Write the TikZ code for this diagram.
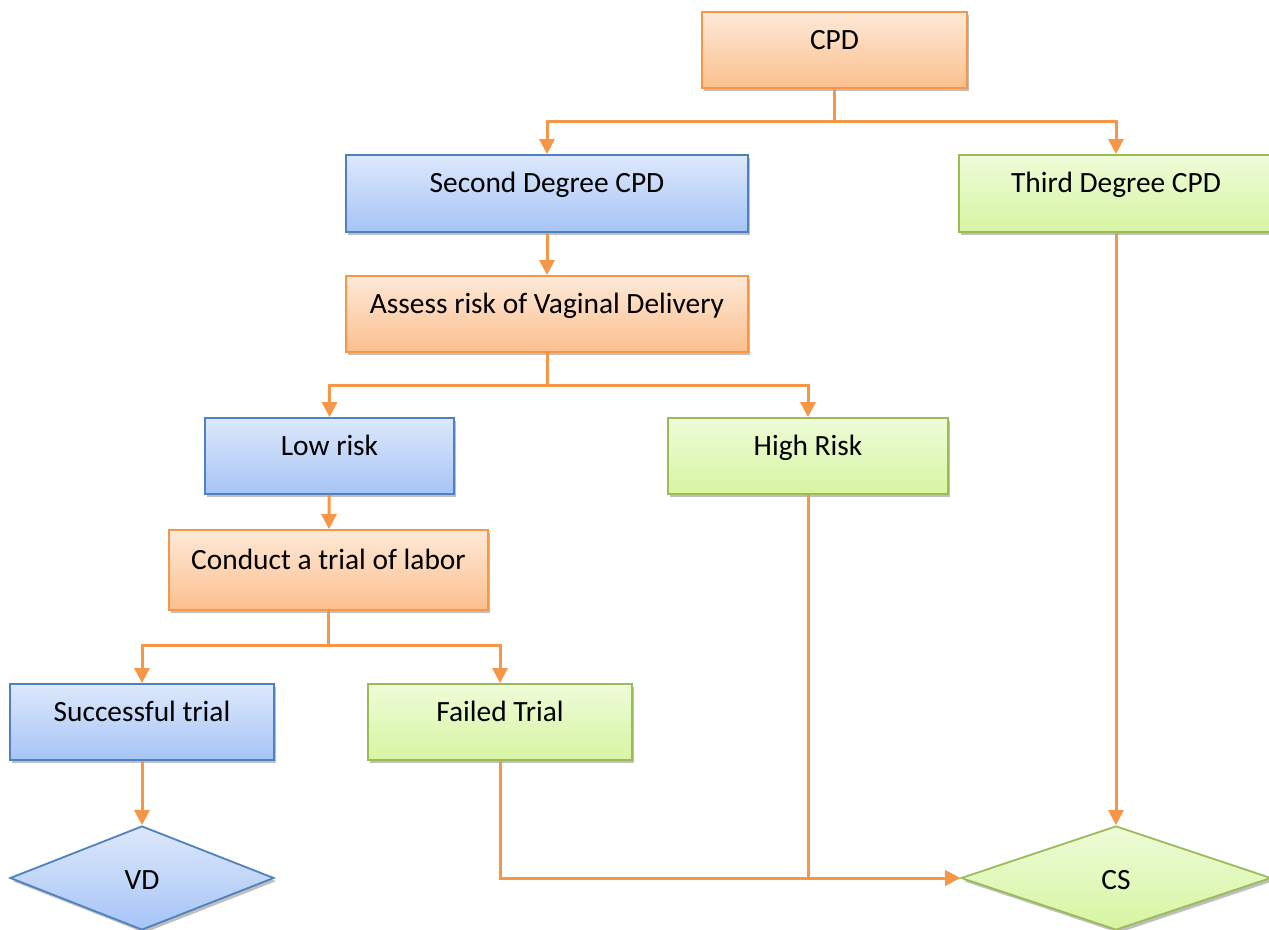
\documentclass[tikz,border=0pt]{standalone}
\usepackage{fontspec}
\setmainfont{Carlito}
\usepackage{tikz}
\usetikzlibrary{arrows.meta,positioning,shapes.geometric,shadows}
\definecolor{CareOrange}{HTML}{F79646}
\definecolor{OrangeTop}{HTML}{FEE9D8}
\definecolor{OrangeBot}{HTML}{FBBF8E}
\definecolor{CareBlue}{HTML}{4F81BD}
\definecolor{BlueTop}{HTML}{DDE8FB}
\definecolor{BlueBot}{HTML}{A6C4F6}
\definecolor{CareGreen}{HTML}{9BBB59}
\definecolor{GreenTop}{HTML}{EEFCD8}
\definecolor{GreenBot}{HTML}{D6F5A2}

\begin{document}
\begin{tikzpicture}[
  x=0.5pt,y=-0.5pt,
  every node/.style={font=\fontsize{14.7}{17}\selectfont,align=center},
  base/.style={line width=0.9pt,inner sep=0pt,text height=10pt,text depth=10.5pt,
    drop shadow={shadow xshift=1.2pt,shadow yshift=-1.6pt,opacity=0.25,fill=black}},
  obox/.style={base,draw=CareOrange,top color=OrangeTop,bottom color=OrangeBot},
  bbox/.style={base,draw=CareBlue,top color=BlueTop,bottom color=BlueBot},
  gbox/.style={base,draw=CareGreen,top color=GreenTop,bottom color=GreenBot},
  ends/.style={diamond,inner sep=0pt,line width=0.9pt,text height=11.5pt,text depth=0pt,
    drop shadow={shadow xshift=1.2pt,shadow yshift=-1.6pt,opacity=0.25,fill=black}},
  arr/.style={-{Triangle[length=7.5pt,width=7.5pt]},line width=1.5pt,color=CareOrange}
]
\useasboundingbox (0,0) rectangle (1269,930);
% boxes
\node[obox,minimum width=132.5pt,minimum height=38pt] (cpd) at (834.5,50) {CPD};
\node[bbox,minimum width=201pt,minimum height=38.5pt] (second) at (547,193.5) {Second Degree CPD};
\node[gbox,minimum width=157pt,minimum height=38.5pt] (third) at (1116,193.5) {Third Degree CPD};
\node[obox,minimum width=201pt,minimum height=38pt] (assess) at (547,314) {Assess risk of Vaginal Delivery};
\node[bbox,minimum width=124.5pt,minimum height=38pt] (low) at (329.5,456) {Low risk};
\node[gbox,minimum width=140pt,minimum height=38pt] (high) at (808,456) {High Risk};
\node[obox,minimum width=159.5pt,minimum height=40pt] (trial) at (328.5,570) {Conduct a trial of labor};
\node[bbox,minimum width=132pt,minimum height=38pt] (success) at (142,722) {Successful trial};
\node[gbox,minimum width=132pt,minimum height=38pt] (failed) at (500,722) {Failed Trial};
% outcomes
\node[ends,draw=CareBlue,top color=BlueTop,bottom color=BlueBot,
  minimum width=132pt,minimum height=52pt] (vd) at (142,878) {VD};
\node[ends,draw=CareGreen,top color=GreenTop,bottom color=GreenBot,
  minimum width=155pt,minimum height=52pt] (cs) at (1116,878) {CS};
% connectors
\draw[arr] (cpd.south) -- ++(0,33) -| (second.north);
\draw[arr] (cpd.south) -- ++(0,33) -| (third.north);
\draw[arr] (second) -- (assess);
\draw[arr] (assess.south) -- ++(0,33) -| (low.north);
\draw[arr] (assess.south) -- ++(0,33) -| (high.north);
\draw[arr] (low) -- (trial);
\draw[arr] (trial.south) -- ++(0,35) -| (success.north);
\draw[arr] (trial.south) -- ++(0,35) -| (failed.north);
\draw[arr] (success) -- (vd);
\draw[arr] (failed.south) |- (cs.west);
\draw[arr] (high.south) |- (cs.west);
\draw[arr] (third) -- (cs);
\end{tikzpicture}
\end{document}
